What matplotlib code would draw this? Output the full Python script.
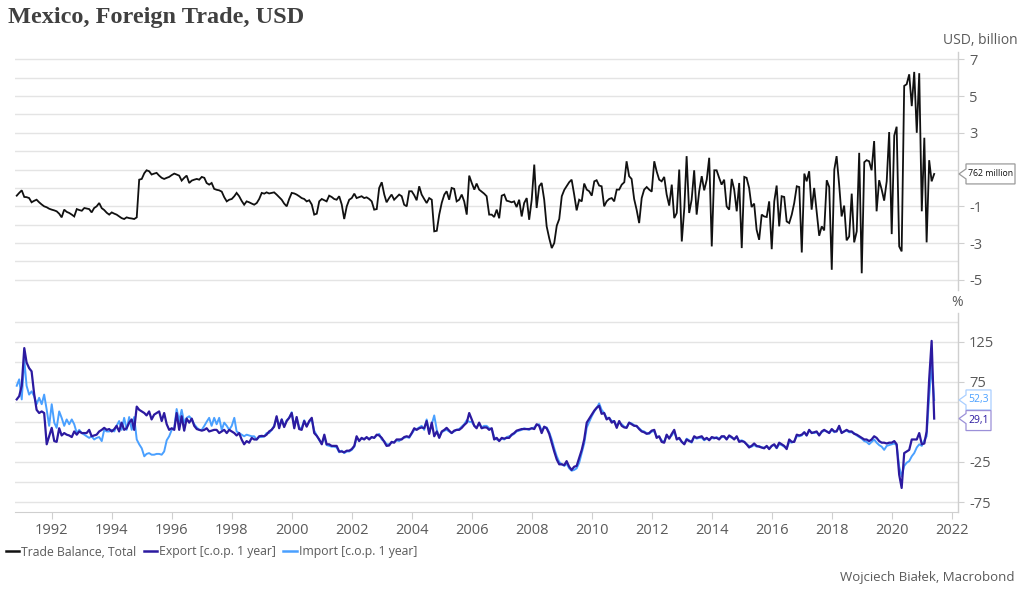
import numpy as np
import pandas as pd
import matplotlib
matplotlib.use('Agg')
import matplotlib.pyplot as plt
from matplotlib.patches import Polygon
from matplotlib.lines import Line2D
from matplotlib.transforms import IdentityTransform

# ---------------- data (monthly, starting Nov 1990) ----------------
START = '1990-11-01'

trade_balance = [
    -0.42, -0.27,
    -0.13, -0.49, -0.50, -0.55, -0.78, -0.70, -0.64, -0.78, -0.90, -1.00, -1.05, -1.13,   # 1991
    -1.18, -1.22, -1.27, -1.40, -1.60, -1.18, -1.30, -1.36, -1.45, -1.55, -1.15, -1.20,   # 1992
    -1.24, -1.09, -1.12, -1.15, -1.33, -1.09, -1.00, -0.82, -1.10, -1.20, -1.35, -1.45,   # 1993
    -1.33, -1.40, -1.45, -1.55, -1.64, -1.69, -1.60, -1.64, -1.66, -1.69, -1.60, 0.45,    # 1994
    0.49, 0.80, 0.96, 0.91, 0.73, 0.78, 0.82, 0.67, 0.55, 0.49, 0.55, 0.60,               # 1995
    0.70, 0.78, 0.73, 0.67, 0.40, 0.55, 0.67, 0.27, 0.40, 0.45, 0.49, 0.45,               # 1996
    0.60, 0.55, 0.27, 0.18, 0.27, -0.05, -0.10, -0.13, -0.20, -0.50, -0.73, -0.64,        # 1997
    -0.60, -0.45, -0.27, -0.45, -0.70, -0.91, -0.73, -0.78, -0.85, -0.91, -0.82, -0.60,   # 1998
    -0.27, -0.31, -0.24, -0.30, -0.27, -0.24, -0.36, -0.50, -0.64, -0.85, -1.00, -0.60,   # 1999
    -0.27, -0.30, -0.36, -0.45, -0.55, -0.60, -0.73, -0.67, -0.90, -1.45, -1.40, -0.73,   # 2000
    -0.60, -0.67, -0.73, -0.42, -0.49, -0.60, -0.64, -0.45, -0.90, -1.69, -1.00, -0.64,   # 2001
    -0.55, -0.31, -0.55, -0.50, -0.45, -0.55, -0.51, -0.60, -0.73, -1.18, -1.15, 0.00,    # 2002
    0.31, -0.36, -0.78, -0.55, -0.36, -0.64, -0.50, -0.36, -0.45, -0.91, -1.00, -0.18,    # 2003
    -0.18, -0.40, -0.67, 0.09, -0.36, -0.60, -0.82, -0.55, -0.64, -2.36, -2.33, -1.45,    # 2004
    -0.80, -0.36, -0.18, -0.64, 0.00, -0.05, -0.73, -0.64, -0.36, -0.73, -1.45, 0.67,     # 2005
    0.27, -0.09, 0.24, -0.09, -0.20, -0.31, -0.45, -1.45, -1.45, -1.58, -1.18, -1.65,     # 2006
    -0.42, -0.36, -0.69, -0.73, -0.78, -0.73, -1.04, -0.64, -1.55, -0.82, -0.55, -1.73,   # 2007
    -0.64, 1.27, -1.09, 0.09, 0.27, -0.64, -2.09, -2.73, -3.27, -3.00, -2.05, -1.69,      # 2008
    -0.45, -0.10, 0.09, 0.31, 0.45, -0.36, -1.22, -0.64, -0.73, 0.24, -0.09, -0.18,       # 2009
    -0.42, 0.36, 0.42, 0.13, 0.09, -1.00, -0.73, -0.60, -0.55, -0.73, -0.09, -0.09,       # 2010
    0.18, 0.31, 1.45, 0.64, 0.49, -0.60, -1.18, -1.91, -0.55, -0.09, 0.05, -0.09,         # 2011
    -0.20, 1.45, 0.90, 0.45, 0.36, 0.60, -0.36, -0.96, 0.18, -1.64, -1.36, 1.00,          # 2012
    -2.91, -1.09, 1.73, -1.36, -0.64, 0.96, -1.45, -0.18, 0.64, -0.13, 0.45, 1.64,        # 2013
    -3.18, 0.96, 0.96, 0.55, 0.18, 0.45, -1.00, -1.18, 0.49, -0.09, -1.27, 0.27,          # 2014
    -3.27, 0.60, 0.55, 0.00, -1.04, -0.85, -2.27, -2.82, -1.45, -1.55, -1.58, -0.73,      # 2015
    -3.33, -0.73, 0.13, -2.09, -0.45, -0.49, -1.82, -1.91, -1.45, -0.82, 0.09, 0.05,      # 2016
    -3.51, 0.78, 0.36, 0.91, -1.18, 0.00, -1.27, -2.60, -2.09, -2.31, 0.42, 0.05,         # 2017
    -4.45, 1.00, 1.73, 0.18, -1.55, -0.96, -2.85, -2.64, -0.31, -2.96, -2.36, 1.91,       # 2018
    -4.64, 1.40, 1.51, 1.45, 0.96, 2.55, -1.27, 0.42, -0.09, -0.69, 0.36, 3.04,           # 2019
    -2.51, 2.85, 3.33, -3.18, -3.45, 5.55, 5.64, 6.18, 4.45, 6.31, 3.00, 6.24,            # 2020
    -1.27, 2.73, -2.96, 1.51, 0.36, 0.762,                                                # 2021
]

export_yoy = [
    53, 57,
    70, 117, 99, 92, 88, 60, 40, 36, 38, 36, -3, 7,          # 1991
    17.5, 1, 0, 17, 8, 11, 9, 8, 6, 13, 9, 13,              # 1992
    11, 11, 11, 15, 7, 8, 9, 13, 15, 17.5, 15, 16,          # 1993
    13, 16, 20, 13, 24, 15, 17, 24, 28, 15, 44, 40,         # 1994
    38, 36, 33, 38, 28, 34, 36, 38, 26, 36, 22, 15,         # 1995
    17, 15, 36, 15, 32, 14, 29, 24, 29, 20, 16, 15,         # 1996
    14, 15, 17, 13, 14, 15, 15, 11, 13, 15, 11, 15,         # 1997
    13, 11, 8, 11, 3, -3, 1, -1, 5, 3, 3, 7,                # 1998
    7.5, 7, 9, 13, 15, 19, 32, 17, 28, 18.5, 26, 30,        # 1999
    36, 17, 31, 16, 15, 26, 19, 26, 30, 11, 7.5, 3,         # 2000
    -3, 9, -3, -3, -5, -5, -5, -12, -12, -13, -11, -11,     # 2001
    -9, -5, 7, 1, 5, 3, 6, 3, 6, 5, 9, 8,                   # 2002
    5, 0, -5, -4.5, 0, -1, 3, 3, 3, 6, 7, 6,                # 2003
    11, 17, 15, 17, 18, 17, 26, 10, 24, 7, 13, 5,           # 2004
    13, 15, 17.5, 14, 11, 14, 15, 15, 17.5, 21, 24, 36,     # 2005
    28, 20, 17, 24, 17, 18, 18, 15, 17, 3, 5, 1,            # 2006
    5, 4, 5, 5, 9, 11, 14, 15, 16, 16, 16, 16,              # 2007
    17, 16, 22, 20, 11, 19, 17, 10, -1, -12, -22, -28,      # 2008
    -28, -29, -24, -31, -35, -31, -30, -20, -10, 3, 24, 29, # 2009
    34, 39, 42.5, 45, 35, 36, 28, 30, 24, 26, 17.5, 26,     # 2010
    20, 18, 17.5, 24, 22, 20, 20, 16, 13, 12, 10, 11,       # 2011
    14, 15, 5, 7, 0, -1, 9, 4, 10, 15, 3, 5,                # 2012
    0, -3, 3, 1, 0, 7, 5, 6, 7, 3, 5, 2,                    # 2013
    6, 5, 5, 3, 7, 7, 3, 8, 6, 3, 7, 0,                     # 2014
    1, 0, -3, -7, -5, -2, -5, -6, -7, -8, -5, -9,           # 2015
    -5, -3, -7.5, -1, -3, -5, -9, 3, 0, 0, 9, 8,            # 2016
    9, 12, 8, 15, 11, 12, 13, 8, 13, 15, 13, 11,            # 2017
    16, 13, 13, 20, 11, 13, 15, 13, 13, 10, 9, 7,           # 2018
    5, 3, 3, 1, 3, 7, 5, 1, -1, -1, -2, -1,                 # 2019
    -1, 1, -3, -41, -57.5, -14, -12, -10, 3, 3, 3, 11,      # 2020
    -3, -2, 13, 78, 126, 29.1,                              # 2021
]

import_yoy = [
    70, 78,
    53, 103, 70, 59, 63, 57, 47, 55, 47, 59, 40, 20,        # 1991
    47, 24, 17.5, 38, 30, 20, 28, 22, 28, 22, 11, 15,       # 1992
    11, 9, 7, 5, 7, 3, 5, 6, 1, 15, 13, 13,                 # 1993
    15, 13, 20, 26, 15, 30, 15, 31, 15, 31, 3, -3,          # 1994
    -8, -18, -15, -14, -16, -16, -15, -15, -16, -12, 2, 7,  # 1995
    15, 17.5, 41, 26, 40, 24, 30, 32, 28, 22, 18, 15,       # 1996
    15, 20, 25, 30, 20, 30, 22, 30, 15, 24, 20, 15,         # 1997
    20, 30, 13, 11, 9, 7, 9, 8, 7, 7, 3, 6,                 # 1998
    6, 7, 11, 11, 15, 20, 30, 20, 28, 20, 27, 30,           # 1999
    37, 20, 30, 18, 17, 27, 20, 25, 28, 14, 8, 2,           # 2000
    -2, 6, -4, -5, -6, -6, -7, -13, -11, -14, -12, -12,     # 2001
    -10, -6, 5, 2, 4, 4, 5, 4, 6, 5, 8, 10,                 # 2002
    3, 1, -3, -3, -1, 0, 2, 1, 4, 5, 6, 5,                  # 2003
    10, 15, 16, 18, 20, 15, 28, 12, 22, 33, 15, 6,          # 2004
    12, 14, 15, 13, 11, 13, 15, 16, 19, 22, 27, 25,         # 2005
    25, 20, 18, 23, 18, 20, 20, 17, 16, 6, 3, 2,            # 2006
    4, 3, 6, 7, 8, 10, 13, 14, 15, 17, 16, 15,              # 2007
    17, 18, 21, 22, 14, 18, 18, 12, 3, -8, -18, -25,        # 2008
    -28, -30, -27, -33, -36, -35, -33, -26, -14, -2, 18, 25,# 2009
    32, 38, 42, 48, 40, 36, 30, 30, 26, 26, 20, 24,         # 2010
    22, 19, 18, 24, 23, 21, 19, 17, 14, 13, 11, 10,         # 2011
    13, 13, 7, 6, 2, 0, 8, 5, 8, 13, 4, 4,                  # 2012
    0, -2, 4, 2, -1, 6, 4, 5, 5, 2, 4, 3,                   # 2013
    5, 4, 6, 4, 6, 6, 4, 7, 5, 4, 6, 1,                     # 2014
    2, 0, -3, -5, -6, -4, -6, -5, -7, -7, -6, -8,           # 2015
    -5, -4, -8, -3, -4, -6, -8, 0, -1, 1, 7, 7,             # 2016
    8, 12, 8, 14, 12, 11, 12, 9, 12, 14, 13, 12,            # 2017
    15, 12, 14, 18, 12, 13, 14, 12, 12, 11, 8, 6,           # 2018
    4, 1, 0, -3, 0, 3, -1, -4, -6, -10, -5, -4,             # 2019
    -3, -2, -4, -31, -43, -30, -26, -24, -18, -14, -7, -3,  # 2020
    -5, 2, 7, 57, 95, 52.3,                                 # 2021
]

year_ticks = list(range(1992, 2024, 2))
top_grid = list(range(-5, 8))
top_labels = [7, 5, 3, -1, -3, -5]
bottom_grid = [150, 125, 100, 75, 50, 25, 0, -25, -50, -75]
bottom_labels = [125, 75, -25, -75]

title = 'Mexico, Foreign Trade, USD'
series_names = ['Trade Balance, Total', 'Export [c.o.p. 1 year]', 'Import [c.o.p. 1 year]']
footer = 'Wojciech Białek, Macrobond'

# ---------------- styling ----------------
plt.rcParams['font.family'] = ['Open Sans', 'DejaVu Sans']
C_TB = '#111111'
C_EX = '#2c1aa0'
C_IM = '#4aa0ff'
GRID = '#e4e4e4'
SPINE = '#cfcfcf'
TXT = '#5a5a5a'

W, H = 1024, 594
fig = plt.figure(figsize=(W / 100, H / 100), dpi=100)
L, R = 15, 958
ax1 = fig.add_axes([L / W, 1 - 290 / H, (R - L) / W, (290 - 51.7) / H])
ax2 = fig.add_axes([L / W, 1 - 511.7 / H, (R - L) / W, (511.7 - 313.3) / H])

dates_tb = pd.date_range(START, periods=len(trade_balance), freq='MS')
dates_ex = pd.date_range(START, periods=len(export_yoy), freq='MS')
dates_im = pd.date_range(START, periods=len(import_yoy), freq='MS')

xmin = pd.Timestamp('1990-10-11')
xmax = pd.Timestamp('2022-03-18')

for ax in (ax1, ax2):
    ax.set_xlim(xmin, xmax)
    for s in ('left', 'top'):
        ax.spines[s].set_visible(False)
    ax.spines['right'].set_color(SPINE)
    ax.spines['right'].set_linewidth(1.0)
    ax.yaxis.tick_right()
    ax.tick_params(axis='y', which='both', length=4, color=SPINE, labelcolor=TXT,
                   labelsize=10.5, pad=4)
    ax.set_facecolor('none')

# top panel
for g in top_grid:
    ax1.axhline(g, color=GRID, lw=1.0, zorder=0)
ax1.plot(dates_tb, trade_balance, color=C_TB, lw=1.3, zorder=3, solid_joinstyle='miter')
ax1.set_ylim(-5.55, 7.41)
ax1.set_yticks(top_labels)
ax1.set_yticklabels([str(v) for v in top_labels])
ax1.spines['bottom'].set_visible(False)
ax1.set_xticks([])

# bottom panel
for g in bottom_grid:
    ax2.axhline(g, color=GRID, lw=1.0, zorder=0)
ax2.plot(dates_im, import_yoy, color=C_IM, lw=1.4, zorder=3)
ax2.plot(dates_ex, export_yoy, color=C_EX, lw=1.6, zorder=4)
ax2.set_ylim(-87.1, 160.4)
ax2.set_yticks(bottom_labels)
ax2.set_yticklabels([str(v) for v in bottom_labels])
ax2.spines['bottom'].set_color(SPINE)
ax2.set_xticks([pd.Timestamp(f'{y}-01-01') for y in year_ticks])
ax2.set_xticklabels([str(y) for y in year_ticks])
ax2.tick_params(axis='x', length=5, color=SPINE, labelcolor=TXT, labelsize=10.5, pad=3)

# texts
fig.text(8 / W, 1 - 18 / H, title, ha='left', va='center', fontsize=17.5,
         fontweight='bold', family=['Liberation Serif', 'DejaVu Serif'], color='#404040')
fig.text(1018 / W, 1 - 40 / H, 'USD, billion', ha='right', va='center', fontsize=10, color=TXT)
fig.text(957 / W, 1 - 302 / H, '%', ha='center', va='center', fontsize=10, color=TXT)
fig.text(1015 / W, 1 - 577 / H, footer, ha='right', va='center', fontsize=9.5, color=TXT)

handles = [Line2D([], [], color=c, lw=1.8) for c in (C_TB, C_EX, C_IM)]
fig.legend(handles, series_names, loc='center left', bbox_to_anchor=(6 / W, 1 - 552 / H),
           ncol=3, frameon=False, handlelength=1.1, handletextpad=0.15, columnspacing=0.6,
           fontsize=8.8, labelcolor=TXT, borderaxespad=0, borderpad=0)


def tag(ax, value, text, edge, tcolor, width, dy=0.0, fs=7.5):
    fig.canvas.draw()
    xs = ax.transAxes.transform((1, 0))[0]
    yv = ax.transData.transform((ax.get_xlim()[0], value))[1]
    yc = yv + dy
    h = 20
    x1 = xs + 8
    pts = [(xs + 1, yv), (x1, yv + 5), (x1, yc + h / 2), (x1 + width, yc + h / 2),
           (x1 + width, yc - h / 2), (x1, yc - h / 2), (x1, yv - 5)]
    poly = Polygon(pts, closed=True, transform=IdentityTransform(), fc='white',
                   ec=edge, lw=0.9, zorder=10)
    fig.add_artist(poly)
    fig.add_artist(matplotlib.text.Text(x1 + width / 2, yc, text, transform=IdentityTransform(),
                                        ha='center', va='center', fontsize=fs, color=tcolor,
                                        zorder=11))


tag(ax1, trade_balance[-1], f'{trade_balance[-1] * 1000:.0f} million', '#9a9a9a', '#111111', 49, fs=6.3)
tag(ax2, import_yoy[-1], f'{import_yoy[-1]:.1f}'.replace('.', ','), '#a9cfff', C_IM, 25)
tag(ax2, export_yoy[-1], f'{export_yoy[-1]:.1f}'.replace('.', ','), '#9b90d8', C_EX, 25, dy=-2)

fig.savefig('out.png', dpi=100)
